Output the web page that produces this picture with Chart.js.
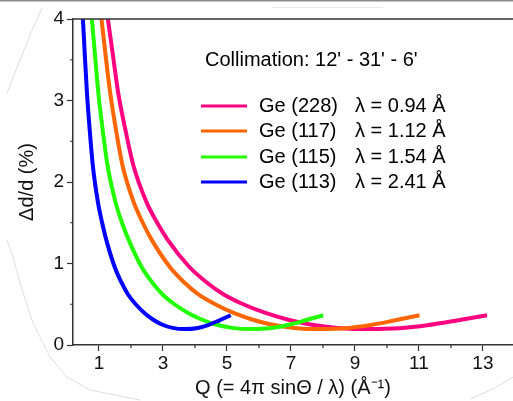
<!DOCTYPE html>
<html>
<head>
<meta charset="utf-8">
<script src="https://cdn.jsdelivr.net/npm/chart.js@4.4.1/dist/chart.umd.min.js"></script>
<style>
  html, body { margin: 0; padding: 0; background: #fff; }
  #wrap { width: 513px; height: 401px; position: relative; }
</style>
</head>
<body>
<div id="wrap"><canvas id="grafico" width="513" height="401"></canvas></div>
<script>
// Q values (1/Å) and resolution (%)
const qBlue = [0.50, 0.56, 0.625, 0.72, 0.81, 0.97, 1.10, 1.23, 1.49, 1.70, 1.91, 2.15, 2.43, 2.70, 2.95, 3.30, 3.68, 4.05, 4.41, 4.75, 5.12];
const dBlue = [4.00, 3.55, 3.10, 2.60, 2.20, 1.75, 1.50, 1.29, 0.96, 0.77, 0.62, 0.50, 0.39, 0.31, 0.255, 0.21, 0.195, 0.205, 0.245, 0.30, 0.365];

const qGreen = [0.78, 0.88, 0.98, 1.13, 1.27, 1.52, 1.72, 1.93, 2.33, 2.66, 2.99, 3.36, 3.80, 4.23, 4.62, 5.16, 5.76, 6.34, 6.90, 7.43, 8.01];
const dGreen = [4.00, 3.55, 3.10, 2.60, 2.20, 1.75, 1.50, 1.29, 0.96, 0.77, 0.62, 0.50, 0.39, 0.31, 0.255, 0.21, 0.195, 0.205, 0.245, 0.30, 0.365];

const qOrange = [1.08, 1.21, 1.35, 1.55, 1.74, 2.09, 2.37, 2.65, 3.21, 3.66, 4.11, 4.63, 5.23, 5.81, 6.35, 7.10, 7.92, 8.72, 9.49, 10.22, 11.02];
const dOrange = [4.00, 3.55, 3.10, 2.60, 2.20, 1.75, 1.50, 1.29, 0.96, 0.77, 0.62, 0.50, 0.39, 0.31, 0.255, 0.21, 0.195, 0.205, 0.245, 0.30, 0.365];

const qPink = [1.28, 1.44, 1.60, 1.85, 2.08, 2.49, 2.82, 3.15, 3.82, 4.36, 4.90, 5.51, 6.23, 6.92, 7.56, 8.46, 9.44, 10.38, 11.31, 12.18, 13.13];
const dPink = [4.00, 3.55, 3.10, 2.60, 2.20, 1.75, 1.50, 1.29, 0.96, 0.77, 0.62, 0.50, 0.39, 0.31, 0.255, 0.21, 0.195, 0.205, 0.245, 0.30, 0.365];

const xTicks = [1, 2, 3, 4, 5, 6, 7, 8, 9, 10, 11, 12, 13];
const yTicks = [0, 0.5, 1, 1.5, 2, 2.5, 3, 3.5, 4];

const collimation = "Collimation: 12' - 31' - 6'";
const crystals = ["Ge (228)", "Ge (117)", "Ge (115)", "Ge (113)"];
const lambdas = ["\u03bb = 0.94 \u00c5", "\u03bb = 1.12 \u00c5", "\u03bb = 1.54 \u00c5", "\u03bb = 2.41 \u00c5"];
const cores = ["#ff0080", "#ff6600", "#22ff00", "#0000ff"];

const FONT = "'Liberation Sans', Arial, sans-serif";

function pontos(qs, ds) {
  return qs.map((q, i) => ({ x: q, y: ds[i] }));
}

function serie(qs, ds, cor) {
  return {
    data: pontos(qs, ds),
    borderColor: cor,
    borderWidth: 4,
    pointRadius: 0,
    fill: false,
    cubicInterpolationMode: "monotone"
  };
}

// faint scan marks around the figure
function rabisco(ctx, pts) {
  ctx.beginPath();
  ctx.moveTo(pts[0][0], pts[0][1]);
  for (let i = 1; i < pts.length; i++) ctx.lineTo(pts[i][0], pts[i][1]);
  ctx.stroke();
}

const decor = {
  id: "decor",
  beforeDraw(chart) {
    const ctx = chart.ctx;
    ctx.save();
    ctx.fillStyle = "#fff";
    ctx.fillRect(0, 0, chart.width, chart.height);
    ctx.strokeStyle = "#d4d4d4";
    ctx.lineWidth = 0.8;
    rabisco(ctx, [[42, 8], [30, 35], [18, 65], [7, 93]]);
    rabisco(ctx, [[7, 240], [13, 257], [20, 283], [33, 323], [50, 357], [67, 377], [90, 390], [140, 400]]);
    rabisco(ctx, [[513, 377], [495, 388], [470, 399]]);
    ctx.strokeStyle = "#e2e2e2";
    rabisco(ctx, [[272, 7.5], [383, 7.5]]);
    ctx.restore();
  },
  afterDraw(chart) {
    const { ctx, chartArea: a, scales: { x, y } } = chart;
    ctx.save();

    // grey frame line at the very top
    ctx.strokeStyle = "#8c8c8c";
    ctx.lineWidth = 1.5;
    ctx.beginPath();
    ctx.moveTo(0, 0.75);
    ctx.lineTo(chart.width, 0.75);
    ctx.stroke();

    // top border of the plot
    ctx.strokeStyle = "#333";
    ctx.lineWidth = 1.5;
    ctx.beginPath();
    ctx.moveTo(a.left, a.top);
    ctx.lineTo(chart.width, a.top);
    ctx.stroke();

    // minor ticks
    ctx.lineWidth = 1.2;
    ctx.beginPath();
    xTicks.filter(v => v % 2 === 0).forEach(v => {
      const px = x.getPixelForValue(v);
      ctx.moveTo(px, a.bottom);
      ctx.lineTo(px, a.bottom + 3);
    });
    yTicks.filter(v => v % 1 !== 0).forEach(v => {
      const py = y.getPixelForValue(v);
      ctx.moveTo(a.left, py);
      ctx.lineTo(a.left - 3, py);
    });
    ctx.stroke();

    // legend
    ctx.fillStyle = "#000";
    ctx.textBaseline = "middle";
    ctx.font = "20px " + FONT;
    ctx.fillText(collimation, 205, 60);
    const linhas = [106, 131, 157, 182];
    linhas.forEach((ly, i) => {
      ctx.strokeStyle = cores[i];
      ctx.lineWidth = 3;
      ctx.beginPath();
      ctx.moveTo(201, ly);
      ctx.lineTo(247, ly);
      ctx.stroke();
      ctx.fillText(crystals[i], 259, ly);
      ctx.fillText(lambdas[i], 355, ly);
    });

    ctx.restore();
  }
};

const ctx = document.getElementById("grafico").getContext("2d");

new Chart(ctx, {
  type: "line",
  data: {
    datasets: [
      serie(qBlue, dBlue, cores[3]),
      serie(qGreen, dGreen, cores[2]),
      serie(qOrange, dOrange, cores[1]),
      serie(qPink, dPink, cores[0])
    ]
  },
  options: {
    responsive: false,
    animation: false,
    layout: { padding: { top: 19, right: 0, bottom: 0, left: 0 } },
    plugins: {
      legend: { display: false },
      tooltip: { enabled: false }
    },
    scales: {
      x: {
        type: "linear",
        min: 0.19,
        max: 13.94,
        afterFit(scale) { scale.height = 56; },
        afterBuildTicks(scale) { scale.ticks = xTicks.map(v => ({ value: v })); },
        border: { color: "#333", width: 1.5 },
        grid: {
          drawOnChartArea: false,
          tickLength: 6,
          tickWidth: 1.2,
          tickColor: c => (c.tick && c.tick.value % 2 === 1) ? "#333" : "rgba(0,0,0,0)"
        },
        ticks: {
          autoSkip: false,
          maxRotation: 0,
          padding: 1,
          color: "#111",
          font: { family: FONT, size: 19 },
          callback: v => (v % 2 === 1 ? String(v) : "")
        },
        title: {
          display: true,
          text: "Q (= 4\u03c0 sin\u0398 / \u03bb) (\u00c5\u207b\u00b9)",
          color: "#111",
          font: { family: FONT, size: 20 },
          padding: { top: 0, bottom: 1 }
        }
      },
      y: {
        type: "linear",
        min: 0,
        max: 4,
        afterFit(scale) { scale.width = 73; },
        afterBuildTicks(scale) { scale.ticks = yTicks.map(v => ({ value: v })); },
        border: { color: "#333", width: 1.5 },
        grid: {
          drawOnChartArea: false,
          tickLength: 6,
          tickWidth: 1.2,
          tickColor: c => (c.tick && c.tick.value % 1 === 0) ? "#333" : "rgba(0,0,0,0)"
        },
        ticks: {
          autoSkip: false,
          padding: 3,
          color: "#111",
          font: { family: FONT, size: 19 },
          callback: v => (v % 1 === 0 ? String(v) : "")
        },
        title: {
          display: true,
          text: "\u0394d/d (%)",
          color: "#111",
          font: { family: FONT, size: 20 },
          padding: { top: 15, bottom: 0 }
        }
      }
    }
  },
  plugins: [decor]
});
</script>
</body>
</html>
